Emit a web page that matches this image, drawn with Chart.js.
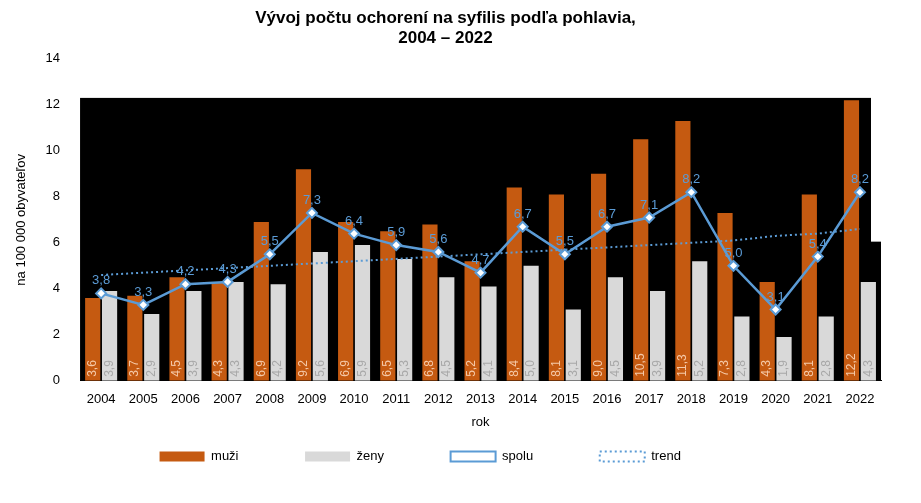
<!DOCTYPE html>
<html><head><meta charset="utf-8">
<script src="https://cdn.jsdelivr.net/npm/chart.js@4"></script>
<style>body{margin:0;background:#fff}#wrap{width:921px;height:503px}</style>
</head><body><div id="wrap"><canvas id="c"></canvas></div>
<script>
const years = ["2004","2005","2006","2007","2008","2009","2010","2011","2012","2013","2014","2015","2016","2017","2018","2019","2020","2021","2022"];
const muzi = [3.6,3.7,4.5,4.3,6.9,9.2,6.9,6.5,6.8,5.2,8.4,8.1,9.0,10.5,11.3,7.3,4.3,8.1,12.2];
const zeny = [3.9,2.9,3.9,4.3,4.2,5.6,5.9,5.3,4.5,4.1,5.0,3.1,4.5,3.9,5.2,2.8,1.9,2.8,4.3];
const spolu = [3.8,3.3,4.2,4.3,5.5,7.3,6.4,5.9,5.6,4.7,6.7,5.5,6.7,7.1,8.2,5.0,3.1,5.4,8.2];
const trend = [4.6,4.7,4.8,4.9,5.0,5.1,5.2,5.3,5.4,5.5,5.6,5.7,5.8,5.9,6.0,6.1,6.3,6.4,6.6];

const fmt = (v) => v.toFixed(1).replace(".", ",");

// black plot background (as in the reference image)
const bgPlugin = {
  id: "bg",
  beforeDatasetsDraw(chart) {
    const { ctx, chartArea: a, scales: { y } } = chart;
    ctx.save();
    ctx.fillStyle = "#000";
    const top = y.getPixelForValue(12.3);
    ctx.fillRect(a.left, top, a.right - a.left - 10, a.bottom - top);
    const mid = y.getPixelForValue(6.05);
    ctx.fillRect(a.right - 10, mid, 10, a.bottom - mid);
    ctx.restore();
  },
};

const labelPlugin = {
  id: "labels",
  afterDatasetsDraw(chart) {
    const { ctx } = chart;
    ctx.save();
    ctx.font = "12px 'Liberation Sans', Arial";
    [0, 1].forEach((di) => {
      const meta = chart.getDatasetMeta(di);
      ctx.fillStyle = di === 0 ? "#f5c9a8" : "#a8a8a8";
      meta.data.forEach((el, i) => {
        const v = chart.data.datasets[di].data[i];
        ctx.save();
        ctx.translate(el.x, el.base - 4);
        ctx.rotate(-Math.PI / 2);
        ctx.textAlign = "left";
        ctx.textBaseline = "middle";
        ctx.fillText(fmt(v), 0, 0);
        ctx.restore();
      });
    });
    const meta = chart.getDatasetMeta(2);
    ctx.font = "13px 'Liberation Sans', Arial";
    ctx.fillStyle = "#5b9bd5";
    ctx.textAlign = "center";
    ctx.textBaseline = "bottom";
    meta.data.forEach((el, i) => ctx.fillText(fmt(spolu[i]), el.x, el.y - 6));
    ctx.restore();
  },
};

const font = { family: "'Liberation Sans', Arial", size: 13 };

new Chart(document.getElementById("c"), {
  data: {
    labels: years,
    datasets: [
      { type: "bar", label: "muži", data: muzi, backgroundColor: "#c55a11", order: 3, categoryPercentage: 0.8, barPercentage: 0.9 },
      { type: "bar", label: "ženy", data: zeny, backgroundColor: "#d9d9d9", order: 3, categoryPercentage: 0.8, barPercentage: 0.9 },
      { type: "line", label: "spolu", data: spolu, borderColor: "#5b9bd5", borderWidth: 2.5, pointStyle: "rectRot", pointRadius: 5, pointBackgroundColor: "#fff", pointBorderColor: "#5b9bd5", pointBorderWidth: 2, order: 1 },
      { type: "line", label: "trend", data: trend, borderColor: "#5b9bd5", borderWidth: 2, borderDash: [2, 3], pointRadius: 0, order: 2 },
    ],
  },
  options: {
    responsive: true,
    maintainAspectRatio: false,
    animation: false,
    layout: { padding: { left: 10, right: 40, top: 0, bottom: 30 } },
    plugins: {
      title: {
        display: true,
        text: ["Vývoj počtu ochorení na syfilis podľa pohlavia,", "2004 – 2022"],
        font: { family: "'Liberation Sans', Arial", size: 17, weight: "bold" },
        lineHeight: 1.5,
        color: "#000",
        padding: { top: 8, bottom: 10 },
      },
      legend: {
        position: "bottom",
        labels: {
          font,
          color: "#000",
          boxWidth: 45,
          boxHeight: 10,
          padding: 16,
          sort: (a, b) => a.datasetIndex - b.datasetIndex,
          generateLabels(chart) {
            const base = Chart.defaults.plugins.legend.labels.generateLabels(chart);
            base.forEach((l) => {
              if (l.datasetIndex >= 2) { l.fillStyle = "#fff"; l.lineWidth = 2; }
              l.text = l.text + "              ";
            });
            return base;
          },
        },
      },
      tooltip: { enabled: false },
    },
    scales: {
      x: {
        grid: { display: false },
        border: { color: "#000" },
        ticks: { color: "#000", font },
        title: { display: true, text: "rok", color: "#000", font },
      },
      y: {
        min: 0, max: 14,
        ticks: { stepSize: 2, color: "#000", font, padding: 12 },
        grid: { display: false },
        border: { display: false },
        title: { display: true, text: "na 100 000 obyvateľov", color: "#000", font },
      },
    },
  },
  plugins: [bgPlugin, labelPlugin],
});
</script></body></html>
